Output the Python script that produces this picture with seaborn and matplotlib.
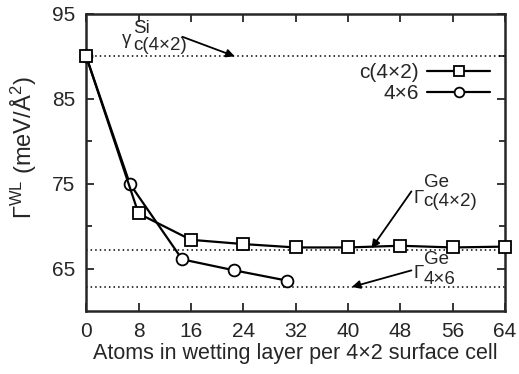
import numpy as np
import pandas as pd
import matplotlib
matplotlib.use("Agg")
import matplotlib.pyplot as plt
import seaborn as sns
from matplotlib.lines import Line2D

# dados
atoms_c42 = [0, 8, 16, 24, 32, 40, 48, 56, 64]
gamma_c42 = [90.0, 71.5, 68.4, 67.9, 67.5, 67.5, 67.7, 67.5, 67.6]
atoms_4x6 = [0, 20 / 3, 44 / 3, 68 / 3, 92 / 3]
gamma_4x6 = [90.0, 75.0, 66.1, 64.8, 63.6]
ref_levels = [90.0, 67.15, 62.85]
x_ticks = [0, 8, 16, 24, 32, 40, 48, 56, 64]
y_ticks = [65, 75, 85, 95]
labels = ["c(4×2)", "4×6"]

sns.set_style("ticks")
plt.rcParams["font.family"] = ["Liberation Sans", "DejaVu Sans"]
plt.rcParams["mathtext.fontset"] = "custom"
plt.rcParams["mathtext.rm"] = "Liberation Sans"
plt.rcParams["mathtext.it"] = "Liberation Sans:italic"

df = pd.concat([
    pd.DataFrame({"x": atoms_4x6, "y": gamma_4x6, "cell": labels[1]}),
    pd.DataFrame({"x": atoms_c42, "y": gamma_c42, "cell": labels[0]}),
])

fig = plt.figure(figsize=(5.19, 3.74), dpi=100)
ax = fig.add_axes([0.166, 0.168, 0.807, 0.795])

for lvl in ref_levels:
    ax.axhline(lvl, color="black", linestyle=(0, (1, 2)), linewidth=1.1, zorder=1)

# 4x6 desenhado primeiro, c(4x2) por cima (quadrado esconde o circulo em x=0)
sns.lineplot(data=df, x="x", y="y", hue="cell", style="cell",
             hue_order=[labels[1], labels[0]], style_order=[labels[1], labels[0]],
             markers={labels[0]: "s", labels[1]: "o"}, dashes=False,
             palette={labels[0]: "black", labels[1]: "black"},
             markersize=8.5, markerfacecolor="white", markeredgecolor="black",
             markeredgewidth=1.3, linewidth=1.6, ax=ax, legend=False, zorder=3,
             clip_on=False, sort=False)

# legenda estilo gnuplot
handles = [Line2D([], [], color="black", lw=1.6, marker="s", ms=7, mfc="white", mew=1.3),
           Line2D([], [], color="black", lw=1.6, marker="o", ms=7, mfc="white", mew=1.3)]
ax.legend(handles, labels, loc="upper right", bbox_to_anchor=(0.964, 0.835),
          frameon=False, markerfirst=False, handlelength=3.0, fontsize=15,
          labelspacing=0.1, handletextpad=0.4, borderaxespad=0, borderpad=0)

ax.set_xlim(0, 64)
ax.set_ylim(60, 95)
ax.set_xticks(x_ticks)
ax.set_yticks(y_ticks)
ax.set_yticks([70, 80, 90], minor=True)
ax.tick_params(axis="both", which="both", direction="in", top=True, right=True,
               labelsize=15, width=1.3)
ax.tick_params(which="major", length=6, pad=8)
ax.tick_params(which="minor", length=4)
for s in ax.spines.values():
    s.set_linewidth(1.8)

ax.set_xlabel("Atoms in wetting layer per 4×2 surface cell", fontsize=15.5, labelpad=1)
ax.set_ylabel(r"$\Gamma^{\rm WL}$ (meV/Å$^{\rm 2}$)", fontsize=17)
ax.yaxis.set_label_coords(-0.112, 0.55)

arrow = dict(arrowstyle="-|>", color="black", lw=1.3, mutation_scale=12, shrinkA=0, shrinkB=0)
ax.annotate("", xy=(22.7, 90), xytext=(14.7, 92.3), arrowprops=arrow)
ax.annotate("", xy=(43.6, 67.4), xytext=(49.7, 74.1), arrowprops=arrow)
ax.annotate("", xy=(40.6, 62.85), xytext=(49.7, 64.8), arrowprops=arrow)

# rotulos das linhas de referencia: simbolo, sobrescrito e subscrito separados
fs = 13.5
ax.text(5.4, 91.5, "γ", fontsize=fs)
ax.text(7.2, 92.75, "Si", fontsize=fs)
ax.text(7.2, 90.75, "c(4×2)", fontsize=fs)

ax.text(50.0, 72.7, "Γ", fontsize=fs)
ax.text(51.6, 74.6, "Ge", fontsize=fs)
ax.text(51.5, 72.4, "c(4×2)", fontsize=fs)

ax.text(50.0, 63.9, "Γ", fontsize=fs)
ax.text(51.6, 65.5, "Ge", fontsize=fs)
ax.text(51.5, 63.2, "4×6", fontsize=fs)

fig.savefig("out.png", dpi=100)
